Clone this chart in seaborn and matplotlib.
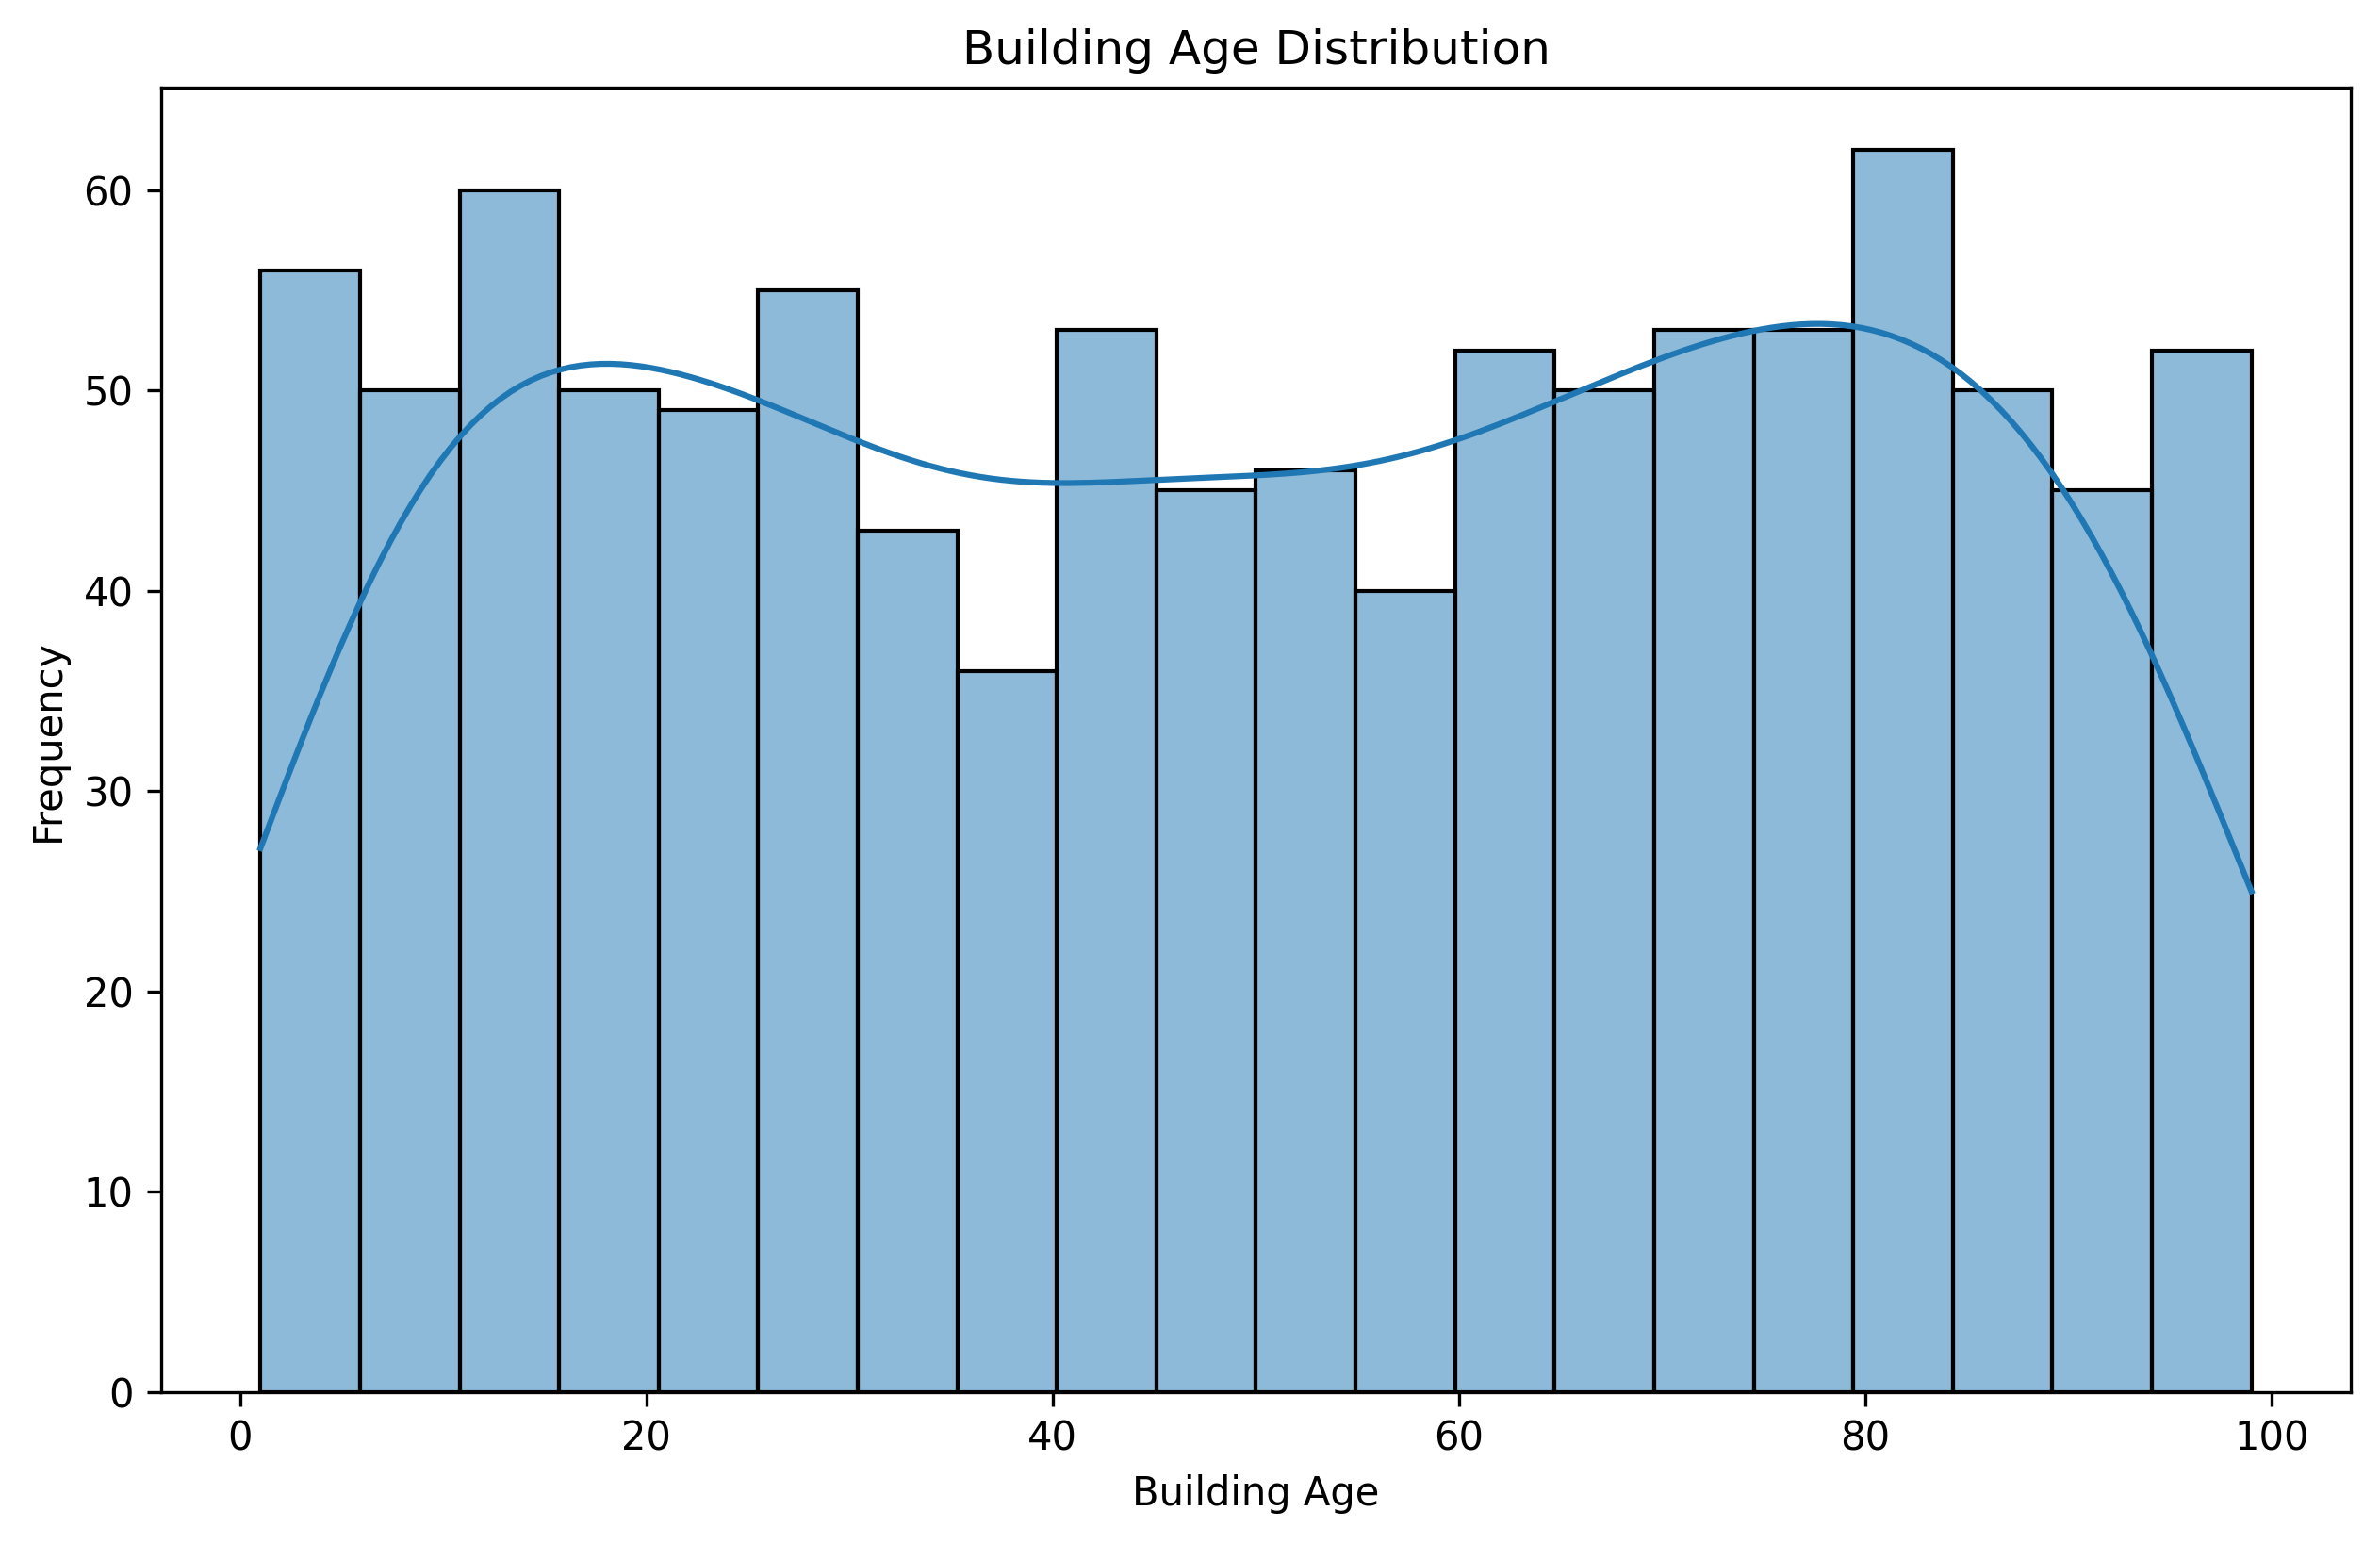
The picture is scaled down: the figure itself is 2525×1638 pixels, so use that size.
import numpy as np
import pandas as pd
import matplotlib
matplotlib.use("Agg")
import matplotlib.pyplot as plt
import seaborn as sns

# counts per bin (20 bins, ages 1..99)
age_range = (1, 99)
n_bins = 20
counts = [56, 50, 60, 50, 49, 55, 43, 36, 53, 45,
          46, 40, 52, 50, 53, 53, 62, 50, 45, 52]

edges = np.linspace(age_range[0], age_range[1], n_bins + 1)
centers = (edges[:-1] + edges[1:]) / 2
df = pd.DataFrame({"Building Age": centers, "count": counts})

# weighted kde uses effective n (~20) -> shrink bw back toward n=1000 scale
bw = 0.5

fig, ax = plt.subplots(figsize=(2525 / 300, 1638 / 300), dpi=300)
sns.histplot(data=df, x="Building Age", weights="count", bins=n_bins,
             binrange=age_range, kde=True, edgecolor="black",
             kde_kws={"cut": 1, "clip": age_range, "bw_adjust": bw}, ax=ax)
ax.set_title("Building Age Distribution")
ax.set_xlabel("Building Age")
ax.set_ylabel("Frequency")
plt.subplots_adjust(left=0.0676, right=0.9878, top=0.943, bottom=0.0985)
fig.savefig("out.png", dpi=300)
